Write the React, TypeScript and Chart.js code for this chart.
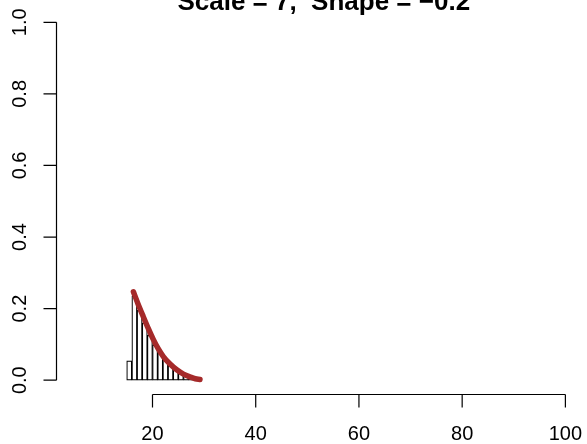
import React, { useEffect, useRef } from "react";
import { Chart, registerables } from "chart.js";

Chart.register(...registerables);

// Histogram: bin left edges (width 1) and density heights
const binStarts = [15, 16, 17, 18, 19, 20, 21, 22, 23, 24, 25, 26, 27, 28];
const binDensity = [0.054, 0.235, 0.195, 0.16, 0.125, 0.098, 0.075, 0.056, 0.04, 0.028, 0.019, 0.012, 0.007, 0.003];

// Fitted density curve
const curveX = [16.3, 17.2, 18.2, 19.2, 20.15, 21.1, 22.1, 23.4, 24.7, 26.0, 27.3, 28.3, 29.2];
const curveY = [0.247, 0.213, 0.178, 0.144, 0.114, 0.088, 0.066, 0.045, 0.029, 0.017, 0.009, 0.004, 0.002];

const xTicks = [20, 40, 60, 80, 100];
const xTickLabels = ["20", "40", "60", "80", "100"];
const yTicks = [0, 0.2, 0.4, 0.6, 0.8, 1.0];
const yTickLabels = ["0.0", "0.2", "0.4", "0.6", "0.8", "1.0"];
const titleText = "Scale = 7,  Shape = \u22120.2";

const FONT = '"Liberation Sans", Arial, Helvetica, sans-serif';

const rAxesPlugin = {
  id: "rAxes",
  afterDraw(chart: any) {
    const ctx = chart.ctx;
    const xs = chart.scales.x;
    const ys = chart.scales.y;
    const area = chart.chartArea;
    ctx.save();
    ctx.strokeStyle = "#000000";
    ctx.fillStyle = "#000000";
    ctx.lineWidth = 1.2;
    const tickLen = 13;

    // y axis
    const yAxisX = area.left;
    ctx.beginPath();
    ctx.moveTo(yAxisX, ys.getPixelForValue(yTicks[0]));
    ctx.lineTo(yAxisX, ys.getPixelForValue(yTicks[yTicks.length - 1]));
    yTicks.forEach((v) => {
      const py = ys.getPixelForValue(v);
      ctx.moveTo(yAxisX, py);
      ctx.lineTo(yAxisX - tickLen, py);
    });
    ctx.stroke();
    ctx.font = `20px ${FONT}`;
    ctx.textAlign = "center";
    ctx.textBaseline = "alphabetic";
    yTicks.forEach((v, i) => {
      const py = ys.getPixelForValue(v);
      ctx.save();
      ctx.translate(yAxisX - 31, py);
      ctx.rotate(-Math.PI / 2);
      ctx.fillText(yTickLabels[i], 0, 0);
      ctx.restore();
    });

    // x axis
    const xAxisY = area.bottom;
    ctx.beginPath();
    ctx.moveTo(xs.getPixelForValue(xTicks[0]), xAxisY);
    ctx.lineTo(xs.getPixelForValue(xTicks[xTicks.length - 1]), xAxisY);
    xTicks.forEach((v) => {
      const px = xs.getPixelForValue(v);
      ctx.moveTo(px, xAxisY);
      ctx.lineTo(px, xAxisY + tickLen);
    });
    ctx.stroke();
    xTicks.forEach((v, i) => {
      const px = xs.getPixelForValue(v);
      ctx.fillText(xTickLabels[i], px, xAxisY + 45.5);
    });

    // title
    ctx.font = `bold 26px ${FONT}`;
    ctx.textAlign = "center";
    ctx.fillText(titleText, (area.left + area.right) / 2 + 3, 10);
    ctx.restore();
  },
};

export default function App() {
  const canvasRef = useRef<HTMLCanvasElement | null>(null);

  useEffect(() => {
    document.body.style.margin = "0";
    document.body.style.background = "#ffffff";
    const canvas = canvasRef.current;
    if (!canvas) return;
    const chart = new Chart(canvas, {
      type: "bar",
      data: {
        datasets: [
          {
            type: "line",
            data: curveX.map((x, i) => ({ x, y: curveY[i] })),
            borderColor: "#A52A2A",
            borderWidth: 5.5,
            pointRadius: 0,
            cubicInterpolationMode: "monotone",
            borderCapStyle: "round",
            borderJoinStyle: "round",
            fill: false,
            order: 1,
          } as any,
          {
            type: "bar",
            data: binStarts.map((s, i) => ({ x: s + 0.5, y: binDensity[i] })),
            backgroundColor: "#ffffff",
            borderColor: "#000000",
            borderWidth: 1.2,
            borderSkipped: false,
            categoryPercentage: 1,
            barPercentage: 1,
            order: 2,
          } as any,
        ],
      },
      options: {
        responsive: false,
        animation: false,
        events: [],
        layout: { padding: { left: 56.5, right: 2, top: 8, bottom: 49.5 } },
        scales: {
          x: { type: "linear", min: 1.4, max: 103.8, display: false, offset: false },
          y: { type: "linear", min: -0.04, max: 1.04, display: false },
        },
        plugins: {
          legend: { display: false },
          tooltip: { enabled: false },
          title: { display: false },
        },
      } as any,
      plugins: [rAxesPlugin],
    });
    return () => chart.destroy();
  }, []);

  return (
    <div style={{ width: 587, height: 444, background: "#ffffff" }}>
      <canvas ref={canvasRef} width={587} height={444} style={{ display: "block" }} />
    </div>
  );
}
